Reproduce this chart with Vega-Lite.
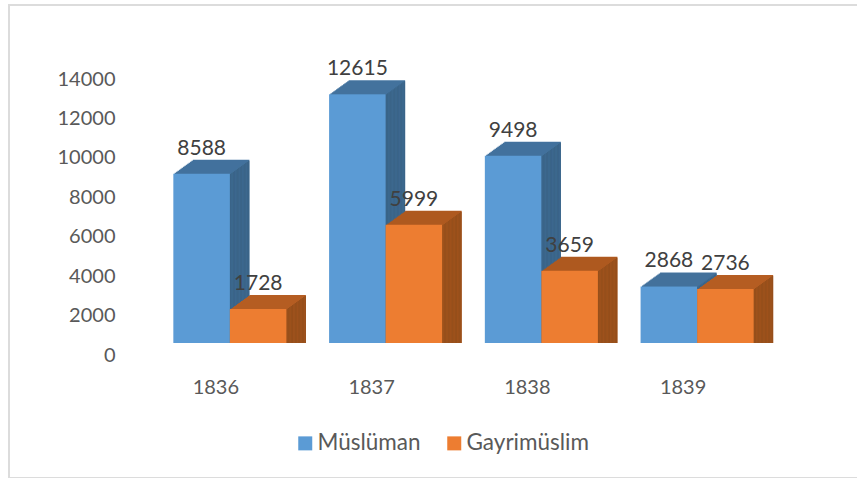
{"$schema":"https://vega.github.io/schema/vega-lite/v6.json","width":860,"height":473,"autosize":{"type":"none"},"padding":{"left":9,"top":5,"right":0,"bottom":0},"background":"white","config":{"view":{"stroke":"#dcdcdc","strokeWidth":2},"font":"Lato"},
"data":{"values":[{"yil":"1836","seri":"Müslüman","deger":8588},{"yil":"1836","seri":"Gayrimüslim","deger":1728},{"yil":"1837","seri":"Müslüman","deger":12615},{"yil":"1837","seri":"Gayrimüslim","deger":5999},{"yil":"1838","seri":"Müslüman","deger":9498},{"yil":"1838","seri":"Gayrimüslim","deger":3659},{"yil":"1839","seri":"Müslüman","deger":2868},{"yil":"1839","seri":"Gayrimüslim","deger":2736}]},
"resolve":{"scale":{"xOffset":"independent"}},
"encoding":{"x":{"field":"yil","type":"nominal","scale":{"range":[143,766],"paddingInner":0.274,"paddingOuter":0.137},"axis":{"title":null,"orient":"bottom","offset":-91,"domain":false,"ticks":false,"labelAngle":0,"labelFontSize":20,"labelColor":"#595959","labelOffset":-14,"labelPadding":0,"labelBaseline":"middle"}},"y":{"field":"deger","type":"quantitative","stack":null,"scale":{"domain":[0,14000],"range":[338,62],"nice":false},"axis":{"title":null,"orient":"left","offset":-106,"domain":false,"ticks":false,"grid":false,"values":[0,2000,4000,6000,8000,10000,12000,14000],"format":"d","labelFontSize":20,"labelColor":"#595959","labelOffset":12,"labelPadding":0}}},
"layer":[
{"mark":{"type":"bar","yOffset":-14,"y2Offset":-14},"encoding":{"xOffset":{"field":"seri","type":"nominal","scale":{"domain":["Müslüman","Gayrimüslim"],"range":[19.5,132.57],"paddingInner":0,"paddingOuter":0}},"color":{"condition":{"test":"datum.seri=='Müslüman'","value":"#4676a2"},"value":"#b55d22"}}},
{"mark":{"type":"bar","yOffset":-13,"y2Offset":-14},"encoding":{"xOffset":{"field":"seri","type":"nominal","scale":{"domain":["Müslüman","Gayrimüslim"],"range":[19.5,132.57],"paddingInner":0,"paddingOuter":0}},"color":{"condition":{"test":"datum.seri=='Müslüman'","value":"#3a6488"},"value":"#964f1b"}}},
{"mark":{"type":"bar","yOffset":-13,"y2Offset":-13},"encoding":{"xOffset":{"field":"seri","type":"nominal","scale":{"domain":["Müslüman","Gayrimüslim"],"range":[18.1,131.17],"paddingInner":0,"paddingOuter":0}},"color":{"condition":{"test":"datum.seri=='Müslüman'","value":"#4676a2"},"value":"#b55d22"}}},
{"mark":{"type":"bar","yOffset":-12,"y2Offset":-13},"encoding":{"xOffset":{"field":"seri","type":"nominal","scale":{"domain":["Müslüman","Gayrimüslim"],"range":[18.1,131.17],"paddingInner":0,"paddingOuter":0}},"color":{"condition":{"test":"datum.seri=='Müslüman'","value":"#3a6488"},"value":"#964f1b"}}},
{"mark":{"type":"bar","yOffset":-12,"y2Offset":-12},"encoding":{"xOffset":{"field":"seri","type":"nominal","scale":{"domain":["Müslüman","Gayrimüslim"],"range":[16.7,129.77],"paddingInner":0,"paddingOuter":0}},"color":{"condition":{"test":"datum.seri=='Müslüman'","value":"#4676a2"},"value":"#b55d22"}}},
{"mark":{"type":"bar","yOffset":-11,"y2Offset":-12},"encoding":{"xOffset":{"field":"seri","type":"nominal","scale":{"domain":["Müslüman","Gayrimüslim"],"range":[16.7,129.77],"paddingInner":0,"paddingOuter":0}},"color":{"condition":{"test":"datum.seri=='Müslüman'","value":"#3a6488"},"value":"#964f1b"}}},
{"mark":{"type":"bar","yOffset":-11,"y2Offset":-11},"encoding":{"xOffset":{"field":"seri","type":"nominal","scale":{"domain":["Müslüman","Gayrimüslim"],"range":[15.3,128.37],"paddingInner":0,"paddingOuter":0}},"color":{"condition":{"test":"datum.seri=='Müslüman'","value":"#4676a2"},"value":"#b55d22"}}},
{"mark":{"type":"bar","yOffset":-10,"y2Offset":-11},"encoding":{"xOffset":{"field":"seri","type":"nominal","scale":{"domain":["Müslüman","Gayrimüslim"],"range":[15.3,128.37],"paddingInner":0,"paddingOuter":0}},"color":{"condition":{"test":"datum.seri=='Müslüman'","value":"#3a6488"},"value":"#964f1b"}}},
{"mark":{"type":"bar","yOffset":-10,"y2Offset":-10},"encoding":{"xOffset":{"field":"seri","type":"nominal","scale":{"domain":["Müslüman","Gayrimüslim"],"range":[13.9,126.97],"paddingInner":0,"paddingOuter":0}},"color":{"condition":{"test":"datum.seri=='Müslüman'","value":"#4676a2"},"value":"#b55d22"}}},
{"mark":{"type":"bar","yOffset":-9,"y2Offset":-10},"encoding":{"xOffset":{"field":"seri","type":"nominal","scale":{"domain":["Müslüman","Gayrimüslim"],"range":[13.9,126.97],"paddingInner":0,"paddingOuter":0}},"color":{"condition":{"test":"datum.seri=='Müslüman'","value":"#3a6488"},"value":"#964f1b"}}},
{"mark":{"type":"bar","yOffset":-9,"y2Offset":-9},"encoding":{"xOffset":{"field":"seri","type":"nominal","scale":{"domain":["Müslüman","Gayrimüslim"],"range":[12.5,125.57],"paddingInner":0,"paddingOuter":0}},"color":{"condition":{"test":"datum.seri=='Müslüman'","value":"#4676a2"},"value":"#b55d22"}}},
{"mark":{"type":"bar","yOffset":-8,"y2Offset":-9},"encoding":{"xOffset":{"field":"seri","type":"nominal","scale":{"domain":["Müslüman","Gayrimüslim"],"range":[12.5,125.57],"paddingInner":0,"paddingOuter":0}},"color":{"condition":{"test":"datum.seri=='Müslüman'","value":"#3a6488"},"value":"#964f1b"}}},
{"mark":{"type":"bar","yOffset":-8,"y2Offset":-8},"encoding":{"xOffset":{"field":"seri","type":"nominal","scale":{"domain":["Müslüman","Gayrimüslim"],"range":[11.1,124.17],"paddingInner":0,"paddingOuter":0}},"color":{"condition":{"test":"datum.seri=='Müslüman'","value":"#4676a2"},"value":"#b55d22"}}},
{"mark":{"type":"bar","yOffset":-7,"y2Offset":-8},"encoding":{"xOffset":{"field":"seri","type":"nominal","scale":{"domain":["Müslüman","Gayrimüslim"],"range":[11.1,124.17],"paddingInner":0,"paddingOuter":0}},"color":{"condition":{"test":"datum.seri=='Müslüman'","value":"#3a6488"},"value":"#964f1b"}}},
{"mark":{"type":"bar","yOffset":-7,"y2Offset":-7},"encoding":{"xOffset":{"field":"seri","type":"nominal","scale":{"domain":["Müslüman","Gayrimüslim"],"range":[9.7,122.77],"paddingInner":0,"paddingOuter":0}},"color":{"condition":{"test":"datum.seri=='Müslüman'","value":"#4676a2"},"value":"#b55d22"}}},
{"mark":{"type":"bar","yOffset":-6,"y2Offset":-7},"encoding":{"xOffset":{"field":"seri","type":"nominal","scale":{"domain":["Müslüman","Gayrimüslim"],"range":[9.7,122.77],"paddingInner":0,"paddingOuter":0}},"color":{"condition":{"test":"datum.seri=='Müslüman'","value":"#3a6488"},"value":"#964f1b"}}},
{"mark":{"type":"bar","yOffset":-6,"y2Offset":-6},"encoding":{"xOffset":{"field":"seri","type":"nominal","scale":{"domain":["Müslüman","Gayrimüslim"],"range":[8.3,121.37],"paddingInner":0,"paddingOuter":0}},"color":{"condition":{"test":"datum.seri=='Müslüman'","value":"#4676a2"},"value":"#b55d22"}}},
{"mark":{"type":"bar","yOffset":-5,"y2Offset":-6},"encoding":{"xOffset":{"field":"seri","type":"nominal","scale":{"domain":["Müslüman","Gayrimüslim"],"range":[8.3,121.37],"paddingInner":0,"paddingOuter":0}},"color":{"condition":{"test":"datum.seri=='Müslüman'","value":"#3a6488"},"value":"#964f1b"}}},
{"mark":{"type":"bar","yOffset":-5,"y2Offset":-5},"encoding":{"xOffset":{"field":"seri","type":"nominal","scale":{"domain":["Müslüman","Gayrimüslim"],"range":[7,120.07],"paddingInner":0,"paddingOuter":0}},"color":{"condition":{"test":"datum.seri=='Müslüman'","value":"#4676a2"},"value":"#b55d22"}}},
{"mark":{"type":"bar","yOffset":-4,"y2Offset":-5},"encoding":{"xOffset":{"field":"seri","type":"nominal","scale":{"domain":["Müslüman","Gayrimüslim"],"range":[7,120.07],"paddingInner":0,"paddingOuter":0}},"color":{"condition":{"test":"datum.seri=='Müslüman'","value":"#3a6488"},"value":"#964f1b"}}},
{"mark":{"type":"bar","yOffset":-4,"y2Offset":-4},"encoding":{"xOffset":{"field":"seri","type":"nominal","scale":{"domain":["Müslüman","Gayrimüslim"],"range":[5.6,118.67],"paddingInner":0,"paddingOuter":0}},"color":{"condition":{"test":"datum.seri=='Müslüman'","value":"#4676a2"},"value":"#b55d22"}}},
{"mark":{"type":"bar","yOffset":-3,"y2Offset":-4},"encoding":{"xOffset":{"field":"seri","type":"nominal","scale":{"domain":["Müslüman","Gayrimüslim"],"range":[5.6,118.67],"paddingInner":0,"paddingOuter":0}},"color":{"condition":{"test":"datum.seri=='Müslüman'","value":"#3a6488"},"value":"#964f1b"}}},
{"mark":{"type":"bar","yOffset":-3,"y2Offset":-3},"encoding":{"xOffset":{"field":"seri","type":"nominal","scale":{"domain":["Müslüman","Gayrimüslim"],"range":[4.2,117.27],"paddingInner":0,"paddingOuter":0}},"color":{"condition":{"test":"datum.seri=='Müslüman'","value":"#4676a2"},"value":"#b55d22"}}},
{"mark":{"type":"bar","yOffset":-2,"y2Offset":-3},"encoding":{"xOffset":{"field":"seri","type":"nominal","scale":{"domain":["Müslüman","Gayrimüslim"],"range":[4.2,117.27],"paddingInner":0,"paddingOuter":0}},"color":{"condition":{"test":"datum.seri=='Müslüman'","value":"#3a6488"},"value":"#964f1b"}}},
{"mark":{"type":"bar","yOffset":-2,"y2Offset":-2},"encoding":{"xOffset":{"field":"seri","type":"nominal","scale":{"domain":["Müslüman","Gayrimüslim"],"range":[2.8,115.87],"paddingInner":0,"paddingOuter":0}},"color":{"condition":{"test":"datum.seri=='Müslüman'","value":"#4676a2"},"value":"#b55d22"}}},
{"mark":{"type":"bar","yOffset":-1,"y2Offset":-2},"encoding":{"xOffset":{"field":"seri","type":"nominal","scale":{"domain":["Müslüman","Gayrimüslim"],"range":[2.8,115.87],"paddingInner":0,"paddingOuter":0}},"color":{"condition":{"test":"datum.seri=='Müslüman'","value":"#3a6488"},"value":"#964f1b"}}},
{"mark":{"type":"bar","yOffset":-1,"y2Offset":-1},"encoding":{"xOffset":{"field":"seri","type":"nominal","scale":{"domain":["Müslüman","Gayrimüslim"],"range":[1.4,114.47],"paddingInner":0,"paddingOuter":0}},"color":{"condition":{"test":"datum.seri=='Müslüman'","value":"#4676a2"},"value":"#b55d22"}}},
{"mark":{"type":"bar","yOffset":0,"y2Offset":-1},"encoding":{"xOffset":{"field":"seri","type":"nominal","scale":{"domain":["Müslüman","Gayrimüslim"],"range":[1.4,114.47],"paddingInner":0,"paddingOuter":0}},"color":{"condition":{"test":"datum.seri=='Müslüman'","value":"#3a6488"},"value":"#964f1b"}}},
{"mark":{"type":"bar"},"encoding":{"xOffset":{"field":"seri","type":"nominal","scale":{"domain":["Müslüman","Gayrimüslim"],"range":[0,113.07],"paddingInner":0,"paddingOuter":0}},"color":{"field":"seri","type":"nominal","sort":["Müslüman","Gayrimüslim"],"scale":{"domain":["Müslüman","Gayrimüslim"],"range":["#5b9bd5","#ed7d31"]},"legend":{"title":null,"orient":"none","legendX":285,"legendY":427,"direction":"horizontal","symbolType":"square","symbolSize":196,"symbolStrokeWidth":0,"labelFontSize":22.5,"labelColor":"#595959","columnPadding":22,"labelOffset":1}}}},
{"mark":{"type":"text","dy":-25,"fontSize":21,"color":"#404040"},"encoding":{"xOffset":{"field":"seri","type":"nominal","scale":{"domain":["Müslüman","Gayrimüslim"],"range":[28.3,84.8],"padding":0}},"text":{"field":"deger","type":"quantitative","format":"d"}}}
]}
